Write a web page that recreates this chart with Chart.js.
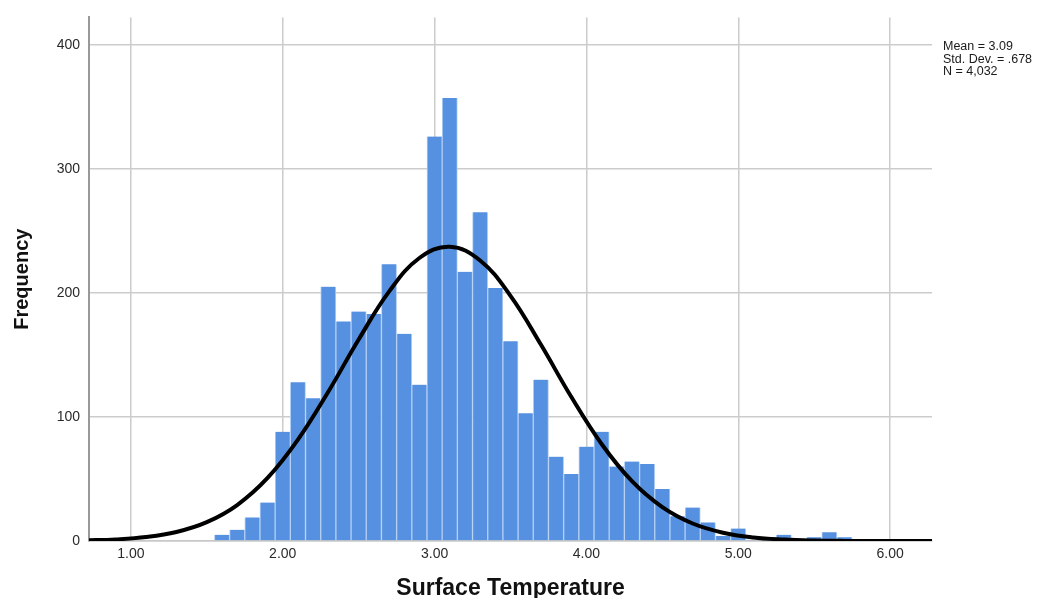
<!DOCTYPE html>
<html>
<head>
<meta charset="utf-8">
<script src="https://cdn.jsdelivr.net/npm/chart.js@4.4.1/dist/chart.umd.min.js"></script>
<style>
  html, body { margin: 0; padding: 0; background: #fff; }
  #wrap { position: relative; width: 1059px; height: 598px; }
  #stats {
    position: absolute; left: 943px; top: 40px;
    font: 12.5px "Liberation Sans", Arial, sans-serif;
    line-height: 12.5px; color: #1a1a1a; white-space: nowrap;
  }
</style>
</head>
<body>
<div id="wrap">
  <canvas id="chart"></canvas>
  <div id="stats">Mean = 3.09<br>Std. Dev. = .678<br>N = 4,032</div>
</div>
<script>
// histogram bins (centre of each 0.1 wide bin) and counts
const binCenters = [1.6, 1.7, 1.8, 1.9, 2.0, 2.1, 2.2, 2.3, 2.4, 2.5, 2.6, 2.7, 2.8, 2.9,
    3.0, 3.1, 3.2, 3.3, 3.4, 3.5, 3.6, 3.7, 3.8, 3.9, 4.0, 4.1, 4.2, 4.3, 4.4, 4.5,
    4.6, 4.7, 4.8, 4.9, 5.0, 5.1, 5.2, 5.3, 5.4, 5.5, 5.6, 5.7];
const frequencies = [5, 9, 19, 31, 88, 128, 115, 205, 177, 185, 183, 223, 167, 126,
    326, 357, 217, 265, 204, 161, 103, 130, 68, 54, 76, 88, 60, 64, 62, 42,
    20, 27, 15, 4, 10, 1, 1, 5, 1, 3, 7, 3];

// normal curve, every 0.2
const curveX = [0.7, 0.9, 1.1, 1.3, 1.5, 1.7, 1.9, 2.1, 2.3, 2.5, 2.7, 2.9, 3.1, 3.3, 3.5,
    3.7, 3.9, 4.1, 4.3, 4.5, 4.7, 4.9, 5.1, 5.3, 5.5, 5.7, 5.9, 6.1, 6.3];
const curveY = [0.5, 1.3, 3.2, 7.3, 15.2, 29.0, 50.8, 81.7, 120.3, 162.4, 201.0, 228.1, 237.2,
    226.1, 197.6, 158.3, 116.2, 78.2, 48.2, 27.3, 14.1, 6.7, 2.9, 1.2, 0.4, 0.1, 0, 0, 0];

const xTicks = [1, 2, 3, 4, 5, 6];
const yTicks = [0, 100, 200, 300, 400];
const xTitle = "Surface Temperature";
const yTitle = "Frequency";

Chart.defaults.font.family = "'Liberation Sans', Arial, sans-serif";

const ctx = document.getElementById("chart").getContext("2d");
new Chart(ctx, {
    type: "bar",
    data: {
        datasets: [
            {
                type: "line",
                data: curveX.map((x, i) => ({ x, y: curveY[i] })),
                borderColor: "#000",
                borderWidth: 4,
                pointRadius: 0,
                tension: 0.4,
                fill: false,
                order: 1,
            },
            {
                type: "bar",
                data: binCenters.map((x, i) => ({ x, y: frequencies[i] })),
                backgroundColor: "#5591e0",
                borderColor: "#b3cff3",
                borderWidth: { left: 1, right: 1, top: 0, bottom: 0 },
                barPercentage: 1,
                categoryPercentage: 1,
                order: 2,
            },
        ],
    },
    options: {
        responsive: true,
        maintainAspectRatio: false,
        animation: false,
        layout: { padding: { top: 15, right: 127, left: 0, bottom: 0 } },
        plugins: { legend: { display: false }, tooltip: { enabled: false } },
        scales: {
            x: {
                type: "linear",
                min: 0.724,
                max: 6.276,
                offset: false,
                afterBuildTicks: (s) => { s.ticks = xTicks.map((v) => ({ value: v })); },
                afterFit: (s) => { s.height = 57; },
                grid: { color: "#cccccc", lineWidth: 1.5, drawTicks: false, offset: false },
                border: { color: "#c8c8c8", width: 1.5 },
                ticks: {
                    color: "#2a2a2a",
                    font: { size: 14 },
                    padding: 5,
                    maxRotation: 0,
                    autoSkip: false,
                    callback: (v) => Number(v).toFixed(2),
                },
                title: {
                    display: true,
                    text: xTitle,
                    color: "#111",
                    font: { size: 23, weight: "bold", lineHeight: 0.8 },
                    padding: 0,
                },
            },
            y: {
                min: 0,
                max: 422,
                afterBuildTicks: (s) => { s.ticks = yTicks.map((v) => ({ value: v })); },
                afterFit: (s) => { s.width = 89; },
                grid: { color: "#cccccc", lineWidth: 1.5, drawTicks: false },
                border: { color: "#999", width: 2 },
                ticks: { color: "#2a2a2a", font: { size: 14 }, padding: 9 },
                title: {
                    display: true,
                    text: yTitle,
                    color: "#111",
                    font: { size: 20, weight: "bold" },
                    padding: { top: 10 },
                },
            },
        },
    },
});
</script>
</body>
</html>
